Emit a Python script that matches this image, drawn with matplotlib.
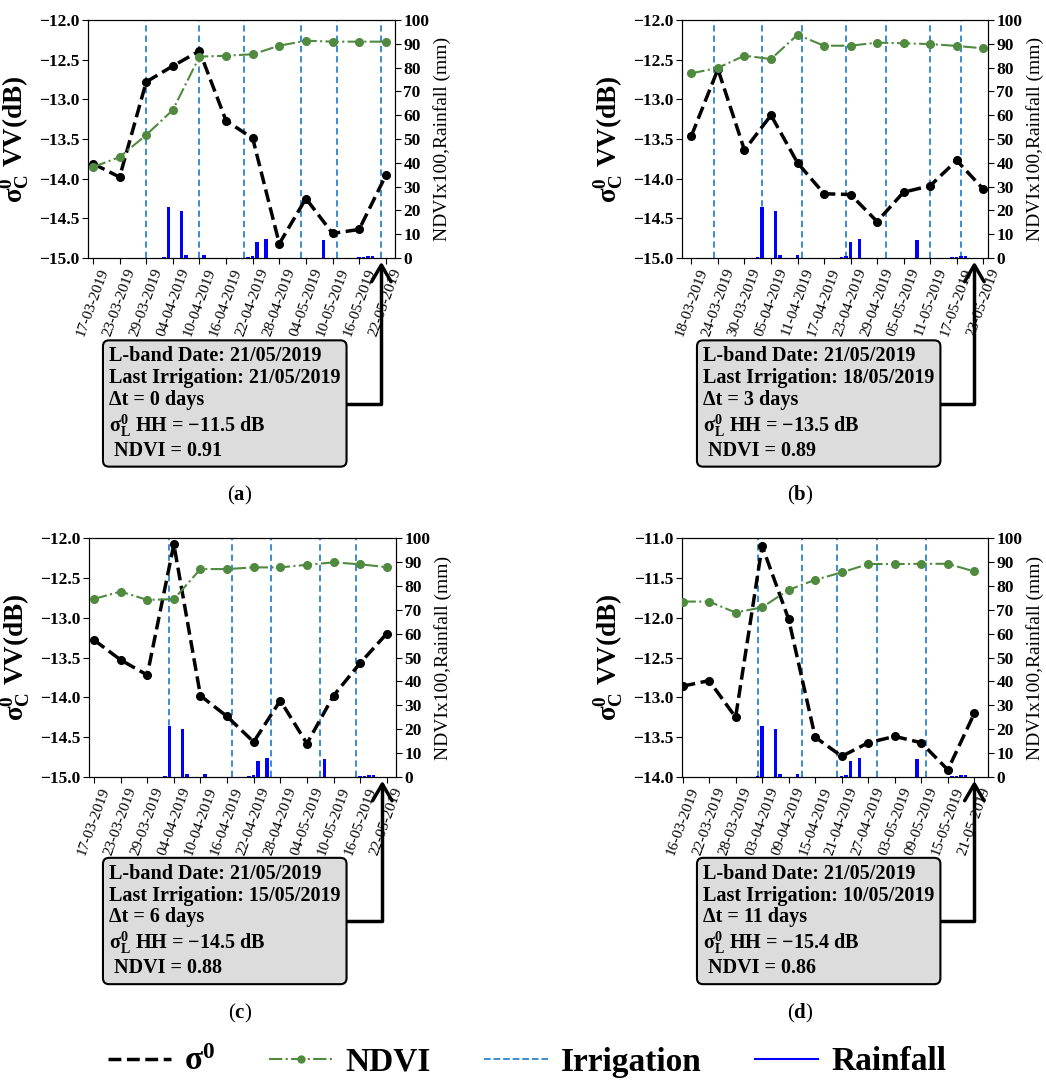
import matplotlib
matplotlib.use("Agg")
import matplotlib.pyplot as plt
from matplotlib.lines import Line2D
import pandas as pd

plt.rcParams['font.family'] = ['Liberation Serif', 'DejaVu Serif']
plt.rcParams['mathtext.fontset'] = 'custom'
plt.rcParams['mathtext.rm'] = 'Liberation Serif'
plt.rcParams['mathtext.bf'] = 'Liberation Serif:bold'
plt.rcParams['mathtext.it'] = 'Liberation Serif:italic'

# ---------------- data ----------------
dates_ac = ["2019-03-17", "2019-03-23", "2019-03-29", "2019-04-04", "2019-04-10", "2019-04-16",
            "2019-04-22", "2019-04-28", "2019-05-04", "2019-05-10", "2019-05-16", "2019-05-22"]
dates_b = ["2019-03-18", "2019-03-24", "2019-03-30", "2019-04-05", "2019-04-11", "2019-04-17",
           "2019-04-23", "2019-04-29", "2019-05-05", "2019-05-11", "2019-05-17", "2019-05-23"]
dates_d = ["2019-03-16", "2019-03-22", "2019-03-28", "2019-04-03", "2019-04-09", "2019-04-15",
           "2019-04-21", "2019-04-27", "2019-05-03", "2019-05-09", "2019-05-15", "2019-05-21"]

sigma_a = [-13.81, -13.98, -12.78, -12.58, -12.39, -13.27, -13.49, -14.82, -14.25, -14.69, -14.64, -13.96]
ndvi_a = [38.2, 42.4, 51.7, 62.2, 84.6, 85.0, 85.6, 89.2, 91.3, 90.9, 90.9, 90.9]
irrig_a = ["2019-03-29", "2019-04-10", "2019-04-20", "2019-05-03", "2019-05-11", "2019-05-21"]

sigma_b = [-13.46, -12.62, -13.64, -13.20, -13.80, -14.19, -14.20, -14.54, -14.17, -14.09, -13.77, -14.13]
ndvi_b = [77.6, 79.9, 85.0, 83.6, 93.8, 89.2, 89.2, 90.5, 90.2, 89.9, 89.1, 88.1]
irrig_b = ["2019-03-23", "2019-04-03", "2019-04-12", "2019-04-22", "2019-05-01", "2019-05-11", "2019-05-18"]

sigma_c = [-13.28, -13.53, -13.72, -12.08, -13.98, -14.24, -14.56, -14.04, -14.58, -13.98, -13.57, -13.20]
ndvi_c = [74.5, 77.6, 74.1, 74.4, 87.0, 87.0, 87.7, 87.7, 88.8, 89.8, 89.0, 87.8]
irrig_c = ["2019-04-03", "2019-04-17", "2019-04-26", "2019-05-07", "2019-05-15"]

sigma_d = [-12.86, -12.79, -13.25, -11.10, -12.02, -13.50, -13.74, -13.57, -13.49, -13.57, -13.91, -13.20]
ndvi_d = [73.4, 73.4, 68.8, 71.0, 78.3, 82.5, 85.6, 89.1, 89.1, 89.2, 89.2, 86.0]
irrig_d = ["2019-04-02", "2019-04-12", "2019-04-20", "2019-04-29", "2019-05-10"]

rain_dates = ["2019-03-29", "2019-04-02", "2019-04-03", "2019-04-06", "2019-04-07", "2019-04-11",
              "2019-04-21", "2019-04-22", "2019-04-23", "2019-04-25", "2019-05-01", "2019-05-08",
              "2019-05-16", "2019-05-17", "2019-05-18", "2019-05-19"]
rain_mm = [0.2, 0.3, 21.5, 19.9, 1.4, 1.4, 0.3, 0.7, 6.9, 8.1, 0.2, 7.4, 0.3, 0.5, 1.0, 1.0]

lband_date = "2019-05-21"
last_irrig = ["21/05/2019", "18/05/2019", "15/05/2019", "10/05/2019"]
delta_t = [0, 3, 6, 11]
sigma_L = ["\u221211.5", "\u221213.5", "\u221214.5", "\u221215.4"]
ndvi_L = ["0.91", "0.89", "0.88", "0.86"]
panel_letters = ["a", "b", "c", "d"]
ylims = [(-15, -12), (-15, -12), (-15, -12), (-14, -11)]

panels = [
    (dates_ac, sigma_a, ndvi_a, irrig_a),
    (dates_b, sigma_b, ndvi_b, irrig_b),
    (dates_ac, sigma_c, ndvi_c, irrig_c),
    (dates_d, sigma_d, ndvi_d, irrig_d),
]

# ---------------- layout ----------------
W, H = 1046, 1085
fig = plt.figure(figsize=(W / 100, H / 100), dpi=100)

ax_px = [(88, 20, 307, 238), (682, 20, 306, 238), (89, 538, 307, 239), (682, 538, 306, 239)]
box_px = [(103, 403.5), (697, 403.5), (103, 921), (697, 921)]
lab_px = [(240, 495), (800, 495), (240, 1013), (800, 1013)]

xmin = pd.Timestamp("2019-03-15 21:00")
xmax = pd.Timestamp("2019-05-24 02:00")

GREEN = "#4f8a3f"
IRR = "#2a84cf"

rain_x = pd.to_datetime(rain_dates)

for i, (dates, sig, ndvi, irr) in enumerate(panels):
    l, t, w, h = ax_px[i]
    ax = fig.add_axes([l / W, 1 - (t + h) / H, w / W, h / H])
    ax2 = ax.twinx()
    dx = pd.to_datetime(dates)

    for d in pd.to_datetime(irr):
        ax.axvline(d, color=IRR, ls=(0, (3.5, 2.2)), lw=1.3, zorder=1)
    ax.plot(dx, sig, color="black", ls="--", lw=2.5, marker="o", ms=5.5, zorder=3)
    ax2.bar(rain_x, rain_mm, width=0.8, color="#0000ff", zorder=2)
    ax2.plot(dx, ndvi, color=GREEN, ls="-.", lw=1.5, marker="o", ms=5.5, zorder=3)

    ax.set_xlim(xmin, xmax)
    ax.set_ylim(*ylims[i])
    ax2.set_ylim(0, 100)
    yt = [ylims[i][0] + 0.5 * k for k in range(7)]
    ax.set_yticks(yt)
    ax.set_yticklabels([f"{v:.1f}".replace("-", "\u2212") for v in yt])
    ax2.set_yticks(range(0, 101, 10))
    ax.set_xticks(dx)
    ax.set_xticklabels([d.strftime("%d-%m-%Y") for d in dx], rotation=70, fontsize=11)
    for lbl in ax.get_yticklabels() + ax2.get_yticklabels():
        lbl.set_fontweight("bold")
        lbl.set_fontsize(12.5)
    ax.tick_params(axis="x", length=4, pad=2)
    ax.tick_params(axis="y", length=4, pad=2)
    ax2.tick_params(axis="y", length=4, pad=2)
    ax.set_ylabel("\u03c3$^{\\mathbf{0}}_{\\mathbf{C}}$ VV(dB)", fontsize=19.5, fontweight="bold", labelpad=5)
    ax2.set_ylabel("NDVIx100,Rainfall (mm)", fontsize=14, labelpad=3)

    # annotation box with arrow
    txt = (f"L-band Date: 21/05/2019\n"
           f"Last Irrigation: {last_irrig[i]}\n"
           f"\u0394t = {delta_t[i]} days\n"
           f"\u03c3$^{{\\mathbf{{0}}}}_{{\\mathbf{{L}}}}$ HH = {sigma_L[i]} dB\n"
           f" NDVI = {ndvi_L[i]}")
    bx, by = box_px[i]
    ax.annotate(txt, xy=(pd.Timestamp(lband_date), -0.015),
                xycoords=("data", "axes fraction"),
                xytext=((bx + 6) / W, 1 - by / H), textcoords="figure fraction",
                ha="left", va="center", fontsize=14.5, fontweight="bold", linespacing=1.12,
                bbox=dict(boxstyle="round,pad=0.3,rounding_size=0.3", fc="#dcdcdc", ec="black", lw=1.5),
                arrowprops=dict(arrowstyle="->,head_length=0.6,head_width=0.35",
                                connectionstyle="angle,angleA=0,angleB=90,rad=0",
                                lw=2.5, color="black", shrinkA=0, shrinkB=0, mutation_scale=20),
                annotation_clip=False)

    lx, ly = lab_px[i]
    fig.text(lx / W, 1 - ly / H, f"($\\mathbf{{{panel_letters[i]}}}$)", fontsize=15,
             ha="center", va="center")

# legend
handles = [
    Line2D([], [], color="black", ls="--", lw=2.5),
    Line2D([], [], color=GREEN, ls="-.", lw=1.5, marker="o", ms=5),
    Line2D([], [], color=IRR, ls="--", lw=1.3),
    Line2D([], [], color="#0000ff", ls="-", lw=1.5),
]
labels = ["\u03c3$^{\\mathbf{0}}$", "NDVI", "Irrigation", "Rainfall"]
fig.legend(handles, labels, loc="center", bbox_to_anchor=(0.504, 1 - 1062 / H), ncol=4,
           frameon=False, prop={"size": 24, "weight": "bold"}, handlelength=1.9,
           columnspacing=1.6, handletextpad=0.4)

fig.savefig("out.png", dpi=100)
